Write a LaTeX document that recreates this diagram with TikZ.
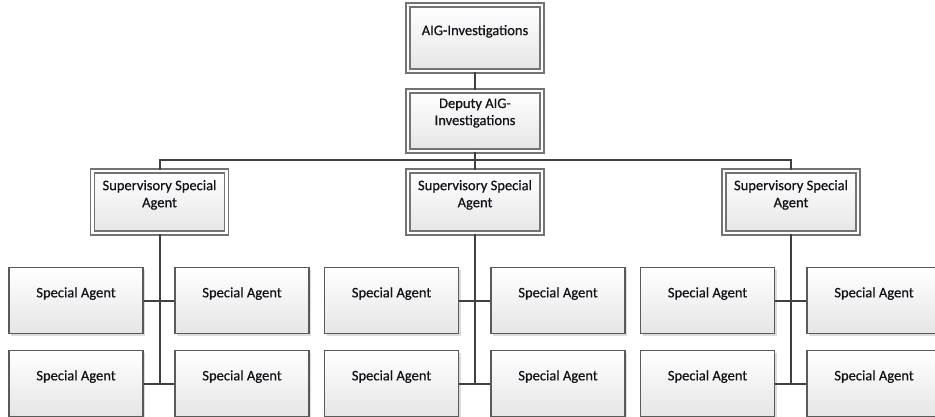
\documentclass[tikz,border=0pt]{standalone}
\usepackage{fontspec}
\setmainfont{Carlito}
\newfontfamily\boxfont[FakeBold=0.6]{Carlito}
\usetikzlibrary{shadows,calc}
\definecolor{lineC}{HTML}{404040}
\definecolor{boxC}{HTML}{5A5A5A}
\definecolor{txtC}{HTML}{121218}
\tikzset{
  x=0.75pt, y=-0.75pt,
  basebox/.style={rectangle, inner sep=0pt, minimum width=134*0.75pt,
    top color=white, bottom color=black!10,
    drop shadow={shadow xshift=1.5pt, shadow yshift=-1.5pt, fill=black!30, opacity=0.45}},
  agentbox/.style={basebox, draw=boxC, line width=1.1pt, minimum height=66*0.75pt},
  dblbox/.style={basebox, draw=boxC!85, line width=0.9pt, double=white, double distance=2.2pt},
  lbl/.style={anchor=north, inner sep=0pt, font=\boxfont\fontsize{10.9pt}{12.8pt}\selectfont, text=txtC, align=center},
  conn/.style={draw=lineC, line width=1.5pt}
}
\begin{document}
\begin{tikzpicture}
\useasboundingbox (0,0) rectangle (935,417);
% top levels
\node[dblbox, minimum height=66*0.75pt] (top) at (475,38) {};
\node[lbl] (topt) at (475,24.8) {AIG-Investigations};
\node[dblbox, minimum height=60*0.75pt] (dep) at (475,121) {};
\node[lbl] (dept) at (475,98.3) {Deputy AIG-\\Investigations};
% supervisors
\foreach \n/\cx in {s1/159.5, s2/475, s3/791}{
  \node[dblbox, minimum height=62*0.75pt] (\n) at (\cx,202) {};
  \node[lbl] (\n t) at (\cx,179.8) {Supervisory Special\\Agent};
}
% agents
\foreach \g/\lx/\rx in {1/76/242, 2/391.5/558, 3/707.5/874}{
  \node[agentbox] (a\g a) at (\lx,300.5) {};
  \node[agentbox] (a\g b) at (\rx,300.5) {};
  \node[agentbox] (a\g c) at (\lx,383.5) {};
  \node[agentbox] (a\g d) at (\rx,383.5) {};
  \foreach \k/\px/\py in {a/\lx/300.5, b/\rx/300.5, c/\lx/383.5, d/\rx/383.5}{
    \node[lbl] (a\g\k t) at (\px,\py-13.5) {Special Agent};
  }
}
\coordinate (bus) at (475,160.5);
% connectors
\draw[conn] (top.south) -- (dep.north);
\draw[conn] (dep.south) -- (bus);
\draw[conn] (bus) -| (s1.north);
\draw[conn] (bus) -| (s3.north);
\draw[conn] (bus) -- (s2.north);
\foreach \g in {1,2,3}{
  \draw[conn] (s\g.south) -- (s\g.south |- a\g c.east);
  \draw[conn] (a\g a.east) -- (a\g b.west);
  \draw[conn] (a\g c.east) -- (a\g d.west);
}
\end{tikzpicture}
\end{document}
